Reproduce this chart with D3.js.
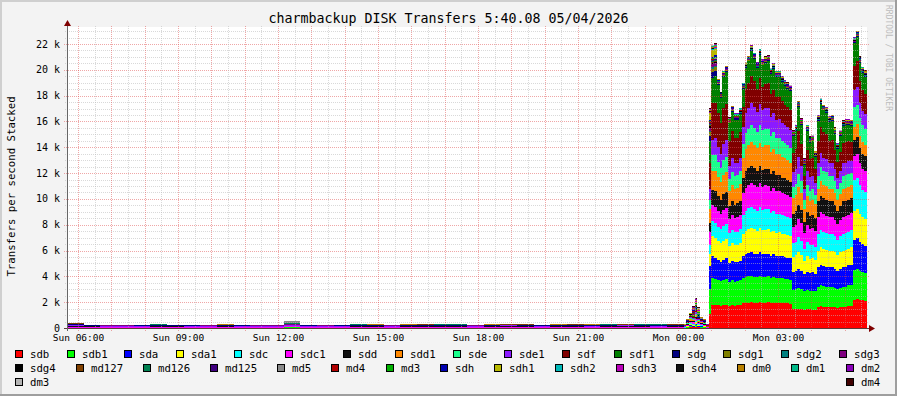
<!DOCTYPE html>
<html>
<head>
<meta charset="utf-8">
<script src="https://cdn.jsdelivr.net/npm/d3@7"></script>
<style>
body { margin: 0; background: #f3f3f3; }
svg text { font-family: "DejaVu Sans Mono", monospace; }
</style>
</head>
<body>
<div id="chart"></div>
<script>
var svgWidth = 897;
var svgHeight = 396;

// Time window of the graph
var startTime = new Date(2026, 4, 3, 5, 40, 8);
var endTime = new Date(2026, 4, 4, 5, 40, 8);
var quietStart = new Date(2026, 4, 3, 5, 40, 0);   // 30 minute blocks until busyStart
var busyStart = new Date(2026, 4, 4, 0, 10, 0);    // 5 minute steps (15 minute for small devices)

var seriesNames = ["sdb", "sdb1", "sda", "sda1", "sdc", "sdc1", "sdd", "sdd1", "sde", "sde1", "sdf", "sdf1",
    "sdg", "sdg1", "sdg2", "sdg3", "sdg4", "md127", "md126", "md125", "md5", "md4", "md3",
    "sdh", "sdh1", "sdh2", "sdh3", "sdh4", "dm0", "dm1", "dm2", "dm3", "dm4"];

var seriesColors = ["#ff0000", "#00ff00", "#0000ff", "#ffff00", "#00ffff", "#ff00ff", "#111111", "#ff8800",
    "#1aff8c", "#8c1aff", "#800000", "#008000", "#000080", "#808000", "#008080", "#800080", "#000000",
    "#804000", "#008050", "#400080", "#888888", "#b00000", "#00b000", "#0000b0", "#b8b800", "#00b8b8",
    "#b800b8", "#101010", "#b88000", "#00b888", "#8800b8", "#b4b4b4", "#400000"];

var legendRows = [16, 15, 2];
var yTickValues = [0, 2000, 4000, 6000, 8000, 10000, 12000, 14000, 16000, 18000, 20000, 22000];

// busy period, 5 minute values from 00:10 (66 values)
var sdb = [0, 20, 50, 40, 80, 40, 30, 20, 0,
    1100, 1800, 1750, 1750, 1700, 1750, 1800, 1700, 1750, 1700, 1750, 1750,
    1900, 1950, 1950, 2000, 1950, 1950, 2000, 1950, 1950, 2000, 1950, 1950, 1900, 1950, 1900, 1900, 1900, 1850,
    1450, 1500, 1500, 1450, 1400, 1450, 1450, 1400, 1400,
    1650, 1700, 1650, 1650, 1650, 1600, 1600, 1550, 1600, 1650, 1650, 1700, 1700,
    2200, 2250, 2200, 2150, 2100];
var sdb1 = [10, 30, 80, 70, 120, 60, 50, 40, 10,
    1900, 2100, 2050, 2000, 1950, 2000, 2000, 1900, 1950, 1900, 1900, 1950,
    1950, 2000, 2050, 2050, 2000, 2000, 2050, 2000, 2000, 2000, 1950, 2000, 1950, 1950, 1950, 1900, 1900, 1900,
    1500, 1550, 1600, 1550, 1450, 1500, 1450, 1500, 1450,
    1550, 1600, 1600, 1550, 1550, 1550, 1500, 1450, 1500, 1550, 1550, 1600, 1600,
    2300, 2350, 2250, 2200, 2150];
var sda = [10, 40, 90, 80, 130, 70, 60, 40, 10,
    1800, 1700, 1600, 1550, 1500, 1550, 1600, 1450, 1500, 1500, 1450, 1500,
    1700, 1750, 1800, 1800, 1800, 1750, 1800, 1750, 1800, 1750, 1700, 1750, 1700, 1700, 1700, 1700, 1650, 1650,
    1400, 1400, 1500, 1450, 1300, 1400, 1350, 1400, 1350,
    1500, 1600, 1550, 1550, 1500, 1550, 1500, 1450, 1500, 1500, 1550, 1550, 1600,
    2300, 2350, 2200, 2150, 2100];
var sda1 = [10, 40, 80, 70, 120, 60, 50, 40, 5,
    900, 1500, 1550, 1450, 1400, 1450, 1500, 1300, 1350, 1350, 1300, 1400,
    1750, 1850, 1900, 1900, 1900, 1850, 1900, 1900, 1850, 1900, 1800, 1850, 1800, 1800, 1750, 1750, 1750, 1700,
    1150, 1200, 1300, 1200, 1050, 1200, 1100, 1150, 1100,
    1300, 1350, 1350, 1300, 1300, 1300, 1250, 1200, 1250, 1300, 1300, 1300, 1350,
    2300, 2300, 2200, 2100, 2100];
var sdc = [15, 40, 80, 80, 120, 70, 50, 40, 10,
    700, 1200, 1150, 1100, 1100, 1150, 1150, 1000, 1050, 1000, 1050, 1050,
    1450, 1550, 1600, 1600, 1600, 1550, 1600, 1550, 1600, 1550, 1500, 1500, 1500, 1450, 1450, 1450, 1400, 1400,
    1050, 1050, 1150, 1100, 950, 1100, 1050, 1000, 1000,
    1300, 1350, 1300, 1300, 1300, 1300, 1250, 1200, 1250, 1300, 1300, 1300, 1350,
    2400, 2400, 2200, 2100, 2100];
var sdc1 = [25, 60, 110, 100, 150, 90, 80, 60, 15,
    1000, 1200, 1300, 1200, 1150, 1250, 1250, 1100, 1150, 1100, 1150, 1100,
    1700, 1750, 1800, 1850, 1850, 1800, 1850, 1800, 1850, 1800, 1750, 1800, 1750, 1750, 1700, 1700, 1700, 1650,
    1300, 1300, 1400, 1350, 1200, 1300, 1300, 1300, 1250,
    1300, 1350, 1350, 1350, 1300, 1300, 1250, 1200, 1250, 1300, 1300, 1300, 1300,
    1800, 1850, 1700, 1650, 1600];
var sdd = [15, 50, 90, 80, 130, 70, 60, 50, 10,
    700, 1200, 1200, 1150, 1100, 1200, 1200, 1000, 1050, 1000, 1050, 1100,
    1200, 1300, 1300, 1350, 1300, 1300, 1350, 1300, 1300, 1350, 1250, 1300, 1250, 1250, 1200, 1200, 1200, 1150,
    1000, 1050, 1100, 1050, 900, 1000, 1000, 1000, 950,
    1200, 1300, 1250, 1250, 1200, 1200, 1150, 1050, 1100, 1200, 1200, 1200, 1200,
    1300, 1300, 1200, 1150, 1150];
var sdd1 = [10, 40, 90, 80, 130, 70, 60, 40, 10,
    1100, 1500, 1600, 1500, 1400, 1500, 1550, 1200, 1300, 1250, 1200, 1300,
    1500, 1700, 1750, 1850, 1800, 1750, 1800, 1750, 1800, 1800, 1700, 1700, 1650, 1650, 1600, 1550, 1500, 1500,
    1250, 1250, 1400, 1300, 1000, 1250, 1150, 1200, 1100,
    1000, 1100, 1050, 1050, 1000, 1000, 950, 850, 900, 1000, 1000, 1000, 950,
    1000, 1000, 950, 900, 900];
var sde = [15, 40, 80, 70, 120, 60, 50, 40, 5,
    700, 1200, 1200, 1150, 1100, 1200, 1200, 900, 1000, 950, 1000, 1000,
    1100, 1250, 1300, 1350, 1300, 1250, 1350, 1300, 1300, 1300, 1250, 1300, 1200, 1250, 1200, 1150, 1150, 1150,
    850, 850, 1000, 900, 650, 850, 800, 800, 700,
    1000, 1100, 1050, 1050, 1000, 1000, 950, 850, 900, 1000, 1000, 1000, 950,
    1500, 1500, 1350, 1300, 1250];
var sde1 = [20, 60, 100, 90, 140, 80, 60, 50, 10,
    900, 1200, 1300, 1200, 1100, 1200, 1300, 1000, 1050, 1000, 950, 1000,
    1300, 1550, 1600, 1700, 1600, 1550, 1650, 1550, 1600, 1600, 1500, 1500, 1450, 1450, 1400, 1400, 1400, 1350,
    1100, 1150, 1300, 1200, 850, 1150, 1050, 1050, 900,
    1000, 1100, 1050, 1050, 1000, 1000, 900, 800, 900, 950, 950, 950, 900,
    1300, 1350, 1150, 1100, 1100];
var sdf = [10, 40, 80, 70, 130, 70, 50, 40, 10,
    2000, 2800, 2700, 2600, 2400, 2800, 2800, 1900, 2100, 2000, 1950, 2000,
    1600, 1850, 1900, 2100, 2000, 1800, 2000, 1850, 1850, 1900, 1750, 1800, 1750, 1700, 1700, 1600, 1600, 1600,
    1500, 1550, 2000, 1700, 1000, 1600, 1400, 1400, 1100,
    1700, 2000, 1950, 1900, 1700, 1750, 1500, 1250, 1500, 1600, 1600, 1550, 1500,
    1900, 2000, 1700, 1600, 1600];
var sdf1 = [10, 40, 70, 70, 130, 60, 50, 40, 5,
    1700, 2000, 2100, 2200, 1950, 2400, 2500, 1400, 1500, 1400, 1400, 1400,
    1400, 1650, 1700, 1900, 1750, 1600, 1800, 1650, 1650, 1700, 1550, 1600, 1550, 1550, 1500, 1450, 1400, 1450,
    1300, 1400, 1900, 1500, 900, 1450, 1250, 1250, 950,
    1550, 1800, 1700, 1650, 1450, 1500, 1250, 1000, 1200, 1300, 1350, 1300, 1250,
    1750, 1900, 1450, 1350, 1300];

// busy period, 15 minute values from 00:10 (22 values)
var sdg = [10, 40, 10, 400, 70, 60, 80, 55, 65, 60, 75, 60, 50, 70, 85, 60, 55, 65, 70, 60, 80, 50];
var sdg1 = [10, 35, 10, 300, 45, 50, 40, 45, 40, 50, 45, 40, 45, 50, 40, 55, 45, 40, 50, 45, 40, 45];
var sdg2 = [10, 35, 10, 80, 20, 15, 25, 20, 20, 15, 20, 25, 20, 15, 20, 20, 25, 20, 15, 20, 20, 25];
var sdg3 = [15, 50, 15, 250, 55, 60, 50, 55, 60, 50, 55, 65, 50, 55, 60, 55, 50, 60, 55, 50, 65, 55];
var sdg4 = [10, 40, 10, 80, 25, 20, 30, 25, 20, 25, 30, 25, 20, 25, 30, 20, 25, 30, 25, 20, 25, 30];
var md127 = [10, 45, 10, 100, 25, 30, 20, 25, 30, 25, 20, 30, 25, 20, 25, 30, 20, 25, 30, 25, 20, 30];
var md126 = [10, 35, 10, 60, 15, 10, 20, 15, 15, 10, 20, 15, 15, 20, 10, 15, 15, 20, 15, 10, 15, 20];
var md125 = [10, 40, 10, 80, 20, 25, 15, 20, 25, 20, 15, 20, 25, 20, 20, 15, 25, 20, 15, 20, 25, 20];
var md5 = [5, 30, 5, 40, 10, 10, 15, 10, 5, 10, 15, 10, 10, 5, 10, 15, 10, 10, 5, 10, 15, 10];
var md4 = [10, 40, 10, 60, 10, 15, 10, 10, 15, 10, 5, 10, 15, 10, 10, 15, 10, 5, 10, 15, 10, 10];
var md3 = [10, 35, 10, 50, 10, 10, 15, 10, 10, 15, 10, 10, 5, 10, 15, 10, 10, 15, 10, 10, 5, 10];
var sdh = [10, 40, 10, 120, 30, 35, 25, 30, 35, 30, 25, 30, 35, 30, 25, 30, 35, 30, 25, 30, 35, 30];
var sdh1 = [10, 35, 10, 500, 25, 20, 30, 25, 20, 25, 30, 25, 20, 25, 30, 25, 20, 25, 30, 25, 20, 25];
var sdh2 = [5, 30, 5, 60, 10, 10, 15, 10, 10, 15, 10, 10, 15, 10, 10, 15, 10, 10, 15, 10, 10, 15];
var sdh3 = [10, 35, 10, 70, 15, 15, 20, 15, 10, 15, 20, 15, 15, 10, 15, 20, 15, 15, 10, 15, 20, 15];
var sdh4 = [10, 40, 10, 40, 10, 10, 15, 10, 10, 15, 10, 10, 15, 10, 10, 15, 10, 10, 15, 10, 10, 15];
var dm0 = [10, 35, 10, 80, 15, 20, 15, 10, 15, 20, 15, 10, 15, 20, 15, 10, 15, 20, 15, 10, 15, 20];
var dm1 = [5, 30, 5, 40, 10, 10, 15, 10, 10, 15, 10, 10, 15, 10, 10, 15, 10, 10, 15, 10, 10, 15];
var dm2 = [10, 40, 10, 60, 20, 25, 20, 15, 20, 25, 20, 15, 20, 25, 20, 15, 20, 25, 20, 15, 20, 25];
var dm3 = [5, 25, 5, 20, 5, 5, 10, 5, 5, 10, 5, 5, 10, 5, 5, 10, 5, 5, 10, 5, 5, 10];
var dm4 = [10, 70, 10, 60, 25, 20, 30, 25, 20, 30, 25, 20, 30, 25, 20, 30, 25, 20, 30, 25, 20, 30];

// quiet period, 30 minute values from 05:40 (37 values), only devices that show
var quietSdb1 = [0, 0, 0, 0, 0, 0, 0, 0, 0, 0, 0, 0, 0, 40, 0, 0, 0, 0, 0, 0,
    0, 0, 0, 0, 0, 0, 0, 0, 0, 0, 0, 0, 0, 0, 0, 0, 0];
var quietSdc1 = [110, 80, 75, 80, 70, 85, 80, 75, 80, 85, 70, 80, 75, 90, 80, 75, 80, 85, 80, 75,
    90, 80, 85, 80, 75, 80, 90, 85, 80, 80, 85, 75, 80, 90, 85, 80, 85];
var quietSdd = [60, 40, 35, 30, 40, 35, 40, 30, 35, 40, 45, 35, 30, 40, 35, 40, 30, 45, 40, 35,
    40, 45, 35, 40, 30, 40, 45, 40, 35, 40, 45, 35, 40, 45, 40, 35, 45];
var quietSde1 = [70, 55, 50, 60, 55, 50, 55, 60, 50, 55, 60, 50, 55, 70, 55, 50, 60, 55, 60, 50,
    55, 60, 65, 55, 60, 55, 60, 65, 55, 60, 55, 60, 55, 65, 60, 55, 60];
var quietSdg = [40, 25, 30, 20, 30, 25, 20, 30, 25, 30, 20, 25, 30, 30, 25, 20, 30, 25, 30, 25,
    20, 30, 25, 30, 25, 30, 35, 25, 30, 25, 30, 25, 30, 35, 30, 25, 30];
var quietSdg3 = [50, 35, 40, 30, 35, 40, 35, 30, 40, 35, 30, 40, 35, 45, 35, 40, 30, 35, 40, 35,
    40, 35, 40, 45, 35, 40, 35, 40, 35, 40, 45, 35, 40, 35, 40, 45, 40];
var quietMd127 = [30, 10, 20, 0, 15, 20, 0, 10, 25, 0, 15, 10, 20, 30, 0, 15, 20, 10, 0, 20,
    15, 25, 10, 20, 15, 0, 20, 25, 15, 10, 20, 15, 25, 20, 10, 25, 20];
var quietMd126 = [20, 0, 15, 10, 0, 20, 10, 0, 15, 10, 20, 0, 10, 20, 15, 0, 10, 20, 15, 0,
    10, 15, 20, 10, 0, 15, 10, 20, 0, 15, 20, 10, 15, 0, 20, 10, 15];
var quietMd5 = [0, 0, 0, 0, 0, 0, 0, 0, 0, 0, 0, 0, 0, 150, 0, 0, 0, 0, 0, 0,
    0, 0, 0, 0, 0, 0, 0, 0, 0, 0, 0, 0, 0, 0, 0, 0, 0];
var quietDm0 = [20, 15, 0, 20, 10, 0, 25, 15, 0, 20, 10, 15, 0, 25, 20, 10, 0, 15, 20, 10,
    25, 0, 15, 20, 10, 25, 15, 0, 20, 15, 10, 25, 0, 20, 15, 10, 20];

var busyData = {
    sdb: sdb, sdb1: sdb1, sda: sda, sda1: sda1, sdc: sdc, sdc1: sdc1, sdd: sdd, sdd1: sdd1,
    sde: sde, sde1: sde1, sdf: sdf, sdf1: sdf1, sdg: sdg, sdg1: sdg1, sdg2: sdg2, sdg3: sdg3,
    sdg4: sdg4, md127: md127, md126: md126, md125: md125, md5: md5, md4: md4, md3: md3,
    sdh: sdh, sdh1: sdh1, sdh2: sdh2, sdh3: sdh3, sdh4: sdh4, dm0: dm0, dm1: dm1, dm2: dm2,
    dm3: dm3, dm4: dm4
};
var quietData = {
    sdb1: quietSdb1, sdc1: quietSdc1, sdd: quietSdd, sde1: quietSde1, sdg: quietSdg,
    sdg3: quietSdg3, md127: quietMd127, md126: quietMd126, md5: quietMd5, dm0: quietDm0
};

var margin = { top: 27, right: 30, bottom: 68, left: 67 };
var plotRight = svgWidth - margin.right;   // 867
var plotBottom = svgHeight - margin.bottom; // 328

var svg = d3.select("#chart")
    .append("svg")
    .attr("width", svgWidth)
    .attr("height", svgHeight);

// background with 3D border
svg.append("rect").attr("width", svgWidth).attr("height", svgHeight).attr("fill", "#f3f3f3");
svg.append("path").attr("d", `M0,${svgHeight} V0 H${svgWidth}`).attr("stroke", "#cfcfcf").attr("stroke-width", 4).attr("fill", "none");
svg.append("path").attr("d", `M0,${svgHeight} H${svgWidth} V0`).attr("stroke", "#9e9e9e").attr("stroke-width", 4).attr("fill", "none");

var x = d3.scaleTime().domain([startTime, endTime]).range([margin.left, plotRight]);
var y = d3.scaleLinear().domain([0, 22000]).range([plotBottom, 44]);
var yTop = y.invert(margin.top);

svg.append("rect")
    .attr("x", margin.left).attr("y", margin.top)
    .attr("width", plotRight - margin.left).attr("height", plotBottom - margin.top)
    .attr("fill", "#ffffff");

svg.append("clipPath").attr("id", "plotClip")
    .append("rect")
    .attr("x", margin.left).attr("y", margin.top)
    .attr("width", plotRight - margin.left).attr("height", plotBottom - margin.top);

// Build the time segments
var segments = [];
for (var i = 0; i < 37; i++) {
    var t0 = d3.timeMinute.offset(quietStart, 30 * i);
    var row = { t0: t0, t1: d3.timeMinute.offset(t0, 30) };
    seriesNames.forEach(function (name) {
        var arr = quietData[name];
        row[name] = arr ? arr[i] : 0;
    });
    segments.push(row);
}
for (var k = 0; k < 66; k++) {
    var b0 = d3.timeMinute.offset(busyStart, 5 * k);
    var brow = { t0: b0, t1: d3.timeMinute.offset(b0, 5) };
    seriesNames.forEach(function (name) {
        var arr = busyData[name];
        var per = 66 / arr.length;
        brow[name] = arr[Math.floor(k / per)];
    });
    segments.push(brow);
}

var stacked = d3.stack().keys(seriesNames)(segments);

var dataGroup = svg.append("g").attr("clip-path", "url(#plotClip)").attr("shape-rendering", "crispEdges");
dataGroup.selectAll("g")
    .data(stacked)
    .enter()
    .append("g")
    .attr("fill", (d, i) => seriesColors[i])
    .selectAll("rect")
    .data(d => d.filter(p => p[1] - p[0] > 0))
    .enter()
    .append("rect")
    .attr("x", d => x(d.data.t0))
    .attr("width", d => x(d.data.t1) - x(d.data.t0))
    .attr("y", d => y(d[1]))
    .attr("height", d => y(d[0]) - y(d[1]));

// Grid
var gridGroup = svg.append("g").attr("shape-rendering", "crispEdges");
var minorColor = "rgba(186,186,186,0.55)";
var majorColor = "rgba(224,80,80,0.5)";

var hMinor = d3.range(500, yTop, 500).filter(v => v % 2000 !== 0);
gridGroup.selectAll(".hminor")
    .data(hMinor)
    .enter()
    .append("line")
    .attr("x1", margin.left - 2).attr("x2", plotRight + 2)
    .attr("y1", d => Math.round(y(d)) + 0.5).attr("y2", d => Math.round(y(d)) + 0.5)
    .attr("stroke", minorColor)
    .attr("stroke-dasharray", "1,1");

gridGroup.selectAll(".hmajor")
    .data(yTickValues.slice(1))
    .enter()
    .append("line")
    .attr("x1", margin.left - 3).attr("x2", plotRight + 3)
    .attr("y1", d => Math.round(y(d)) + 0.5).attr("y2", d => Math.round(y(d)) + 0.5)
    .attr("stroke", majorColor)
    .attr("stroke-dasharray", "1,1");

var vMinor = x.ticks(d3.timeMinute.every(30)).filter(d => d.getMinutes() !== 0);
var vMajor = x.ticks(d3.timeHour.every(1));

gridGroup.selectAll(".vminor")
    .data(vMinor)
    .enter()
    .append("line")
    .attr("x1", d => Math.round(x(d)) + 0.5).attr("x2", d => Math.round(x(d)) + 0.5)
    .attr("y1", margin.top - 1).attr("y2", plotBottom + 2)
    .attr("stroke", minorColor)
    .attr("stroke-dasharray", "1,1");

gridGroup.selectAll(".vmajor")
    .data(vMajor)
    .enter()
    .append("line")
    .attr("x1", d => Math.round(x(d)) + 0.5).attr("x2", d => Math.round(x(d)) + 0.5)
    .attr("y1", margin.top - 1).attr("y2", plotBottom + 3)
    .attr("stroke", majorColor)
    .attr("stroke-dasharray", "1,1");

// Axes
svg.append("line")
    .attr("x1", margin.left - 3).attr("x2", plotRight + 2)
    .attr("y1", plotBottom + 0.5).attr("y2", plotBottom + 0.5)
    .attr("stroke", "#5a3a3a");
svg.append("line")
    .attr("x1", margin.left + 0.5).attr("x2", margin.left + 0.5)
    .attr("y1", plotBottom + 3).attr("y2", margin.top - 2)
    .attr("stroke", "#666666");

svg.append("path")
    .attr("d", `M${margin.left + 0.5},${margin.top - 7} L${margin.left + 4},${margin.top - 1} L${margin.left - 3},${margin.top - 1} Z`)
    .attr("fill", "#7f0000");
svg.append("path")
    .attr("d", `M${plotRight + 8},${plotBottom + 0.5} L${plotRight + 2},${plotBottom - 3} L${plotRight + 2},${plotBottom + 4} Z`)
    .attr("fill", "#7f0000");

// Tick labels
svg.append("g").selectAll("text")
    .data(yTickValues)
    .enter()
    .append("text")
    .attr("x", 60)
    .attr("y", d => y(d) + 3.5)
    .attr("text-anchor", "end")
    .attr("font-size", "10px")
    .attr("fill", "#000")
    .text(d => d === 0 ? "0" : (d / 1000) + " k");

var xFormat = d3.timeFormat("%a %H:%M");
svg.append("g").selectAll("text")
    .data(x.ticks(d3.timeHour.every(3)))
    .enter()
    .append("text")
    .attr("x", d => Math.round(x(d)) + 0.5)
    .attr("y", 341)
    .attr("text-anchor", "middle")
    .attr("font-size", "9.5px")
    .attr("fill", "#000")
    .text(d => xFormat(d));

// Title, axis title, watermark
svg.append("text")
    .attr("x", svgWidth / 2)
    .attr("y", 22.5)
    .attr("text-anchor", "middle")
    .attr("font-size", "13.3px")
    .attr("fill", "#000")
    .text("charmbackup DISK Transfers 5:40.08 05/04/2026");

svg.append("text")
    .attr("transform", "translate(15, 186.5) rotate(-90)")
    .attr("text-anchor", "middle")
    .attr("font-size", "10.7px")
    .attr("fill", "#000")
    .text("Transfers per second Stacked");

svg.append("text")
    .attr("transform", "translate(886, 5) rotate(90)")
    .attr("font-size", "8px")
    .attr("fill", "#bdbdbd")
    .text("RRDTOOL / TOBI OETIKER");

// Legend, justified rows
var legendLeft = 15, legendRight = 880;
var legendGroup = svg.append("g");
var idx = 0;
legendRows.forEach(function (count, r) {
    var names = seriesNames.slice(idx, idx + count);
    var colors = seriesColors.slice(idx, idx + count);
    idx += count;
    var rowY = 350 + r * 14;
    var items = names.map(function (name, i) {
        var g = legendGroup.append("g");
        g.append("rect")
            .attr("x", 0.5).attr("y", rowY + 0.5)
            .attr("width", 7).attr("height", 7)
            .attr("fill", colors[i])
            .attr("stroke", "#000")
            .attr("shape-rendering", "crispEdges");
        var t = g.append("text")
            .attr("x", 15)
            .attr("y", rowY + 8)
            .attr("font-size", "10.7px")
            .attr("fill", "#000")
            .text(name);
        return { g: g, w: 15 + t.node().getComputedTextLength() };
    });
    var total = d3.sum(items, d => d.w);
    var gap = items.length > 1 ? (legendRight - legendLeft - total) / (items.length - 1) : 0;
    var pos = legendLeft;
    items.forEach(function (it) {
        it.g.attr("transform", `translate(${Math.round(pos)}, 0)`);
        pos += it.w + gap;
    });
});
</script>
</body>
</html>
